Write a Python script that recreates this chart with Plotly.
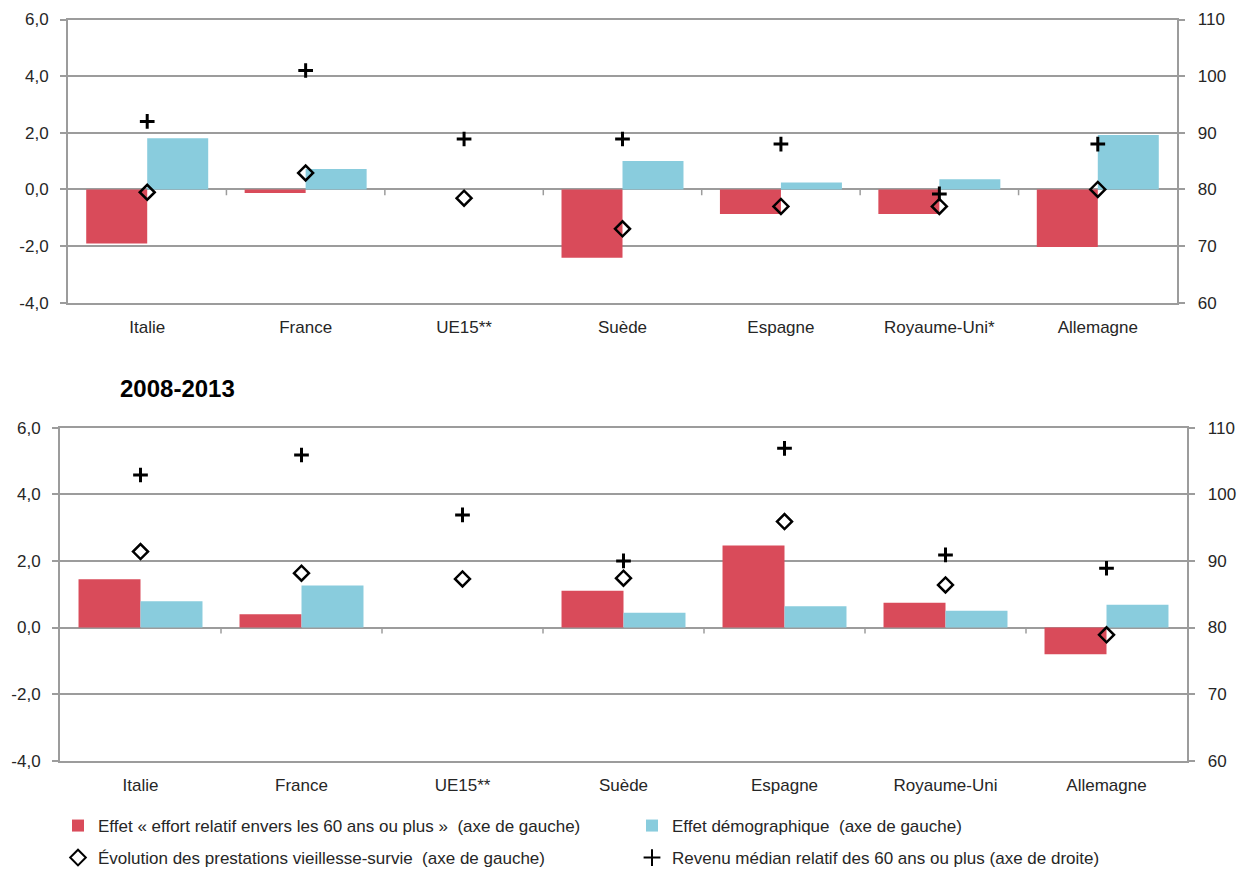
import plotly.graph_objects as go

# data
pays_haut = ["Italie", "France", "UE15**", "Suède", "Espagne", "Royaume-Uni*", "Allemagne"]
pays_bas = ["Italie", "France", "UE15**", "Suède", "Espagne", "Royaume-Uni", "Allemagne"]

effort_haut = [-1.91, -0.13, None, -2.41, -0.87, -0.87, -2.03]
demo_haut = [1.81, 0.72, None, 1.00, 0.24, 0.36, 1.92]
prest_haut = [-0.10, 0.58, -0.31, -1.39, -0.60, -0.60, 0.00]
revenu_haut = [92.0, 101.0, 88.9, 88.9, 88.0, 79.2, 88.0]

effort_bas = [1.45, 0.40, None, 1.10, 2.46, 0.74, -0.80]
demo_bas = [0.79, 1.26, None, 0.44, 0.64, 0.50, 0.68]
prest_bas = [2.28, 1.63, 1.46, 1.48, 3.18, 1.28, -0.22]
revenu_bas = [102.9, 105.9, 96.9, 90.0, 106.9, 90.9, 88.9]

gauche_vals = [-4, -2, 0, 2, 4, 6]
gauche_txt = ["-4,0", "-2,0", "0,0", "2,0", "4,0", "6,0"]

noms = ["Effet « effort relatif envers les 60 ans ou plus »  (axe de gauche)",
        "Effet démographique  (axe de gauche)",
        "Évolution des prestations vieillesse-survie  (axe de gauche)",
        "Revenu médian relatif des 60 ans ou plus (axe de droite)"]

ROUGE = "#D94B5A"
BLEU = "#89CCDD"
GRIS = "#9C9C9C"
FONT = "Liberation Sans, Arial, sans-serif"

fig = go.Figure()


def add_panel(cats, effort, demo, prest, revenu, xa, ya, ya2, legend):
    fig.add_trace(go.Bar(x=cats, y=effort, name=noms[0], marker_color=ROUGE, marker_line_width=0,
                         xaxis=xa, yaxis=ya, showlegend=legend, legend="legend", offsetgroup="a"))
    fig.add_trace(go.Bar(x=cats, y=demo, name=noms[1], marker_color=BLEU, marker_line_width=0,
                         xaxis=xa, yaxis=ya, showlegend=legend, legend="legend", offsetgroup="b"))
    fig.add_trace(go.Scatter(x=cats, y=prest, name=noms[2], mode="markers",
                             marker=dict(symbol="diamond-open", size=11.5, color="black", line=dict(width=2.5, color="black")),
                             xaxis=xa, yaxis=ya, showlegend=legend, legend="legend2"))
    fig.add_trace(go.Scatter(x=cats, y=revenu, name=noms[3], mode="markers",
                             marker=dict(symbol="cross-thin", size=10.5, color="black", line=dict(width=3, color="black")),
                             xaxis=xa, yaxis=ya2, showlegend=legend, legend="legend2"))


add_panel(pays_haut, effort_haut, demo_haut, prest_haut, revenu_haut, "x", "y", "y2", False)
add_panel(pays_bas, effort_bas, demo_bas, prest_bas, revenu_bas, "x2", "y3", "y4", True)

# the page body has an 8px margin, so the figure starts at (8, 8) in the window
OFF = 8
W, H = 1247 - OFF, 870 - OFF


def fx(px):
    return (px - OFF) / W


def fy(py):
    return 1 - (py - OFF) / H


xd_haut = [fx(68), fx(1177)]
xd_bas = [fx(60), fx(1187)]
yd_haut = [fy(302.7), fy(19.5)]
yd_bas = [fy(760.7), fy(427.7)]

tickfont = dict(family=FONT, size=17, color="#262626")

xcommon = dict(type="category", showgrid=False, showline=True, mirror=True, linecolor=GRIS, linewidth=2,
               ticks="", tickfont=dict(family=FONT, size=17, color="#262626"), ticklabelstandoff=8,
               automargin=False, fixedrange=True)
yleft = dict(range=[-4, 6], tickvals=gauche_vals, ticktext=gauche_txt, showgrid=True, gridcolor=GRIS,
             gridwidth=1.5, zeroline=True, zerolinecolor=GRIS, zerolinewidth=2, showline=True, linecolor=GRIS,
             linewidth=2, ticks="outside", ticklen=6, tickcolor=GRIS, tickwidth=1.5, tickfont=tickfont,
             ticklabelstandoff=8, automargin=False)
yright = dict(range=[60, 110], dtick=10, side="right", showgrid=False, zeroline=False, showline=True,
              linecolor=GRIS, linewidth=2, ticks="outside", ticklen=6, tickcolor=GRIS, tickwidth=1.5,
              tickfont=tickfont, tickprefix="\u00a0\u00a0", automargin=False)

legfont = dict(family=FONT, size=17, color="#262626")

fig.update_layout(
    width=W, height=H, autosize=False,
    margin=dict(l=0, r=0, t=0, b=0, autoexpand=False),
    paper_bgcolor="white", plot_bgcolor="white",
    separators=", ",
    barmode="group", bargap=0.23, bargroupgap=0,
    font=dict(family=FONT, size=17, color="#262626"),
    xaxis=dict(xcommon, domain=xd_haut, anchor="y"),
    xaxis2=dict(xcommon, domain=xd_bas, anchor="y3"),
    yaxis=dict(yleft, domain=yd_haut, anchor="x"),
    yaxis2=dict(yright, overlaying="y", anchor="x"),
    yaxis3=dict(yleft, domain=yd_bas, anchor="x2"),
    yaxis4=dict(yright, overlaying="y3", anchor="x2"),
    legend=dict(orientation="h", xref="container", yref="container", x=fx(58), y=fy(826),
                xanchor="left", yanchor="middle", entrywidth=529, font=legfont,
                itemsizing="constant", traceorder="normal"),
    legend2=dict(orientation="h", xref="container", yref="container", x=fx(58), y=fy(858),
                 xanchor="left", yanchor="middle", entrywidth=529, font=legfont,
                 itemsizing="constant", traceorder="normal"),
    annotations=[dict(text="<b>2008-2013</b>", xref="paper", yref="paper", x=fx(118), y=fy(388),
                      xanchor="left", yanchor="middle", showarrow=False,
                      font=dict(family=FONT, size=24, color="black"))],
)

# small tick marks between categories on the zero line
for i in range(6):
    fig.add_shape(type="line", xref="x", yref="y", x0=i + 0.5, x1=i + 0.5, y0=0, y1=-0.21,
                  line=dict(color=GRIS, width=1.5))
    fig.add_shape(type="line", xref="x2", yref="y3", x0=i + 0.5, x1=i + 0.5, y0=0, y1=-0.18,
                  line=dict(color=GRIS, width=1.5))

fig.write_html("out.html")
